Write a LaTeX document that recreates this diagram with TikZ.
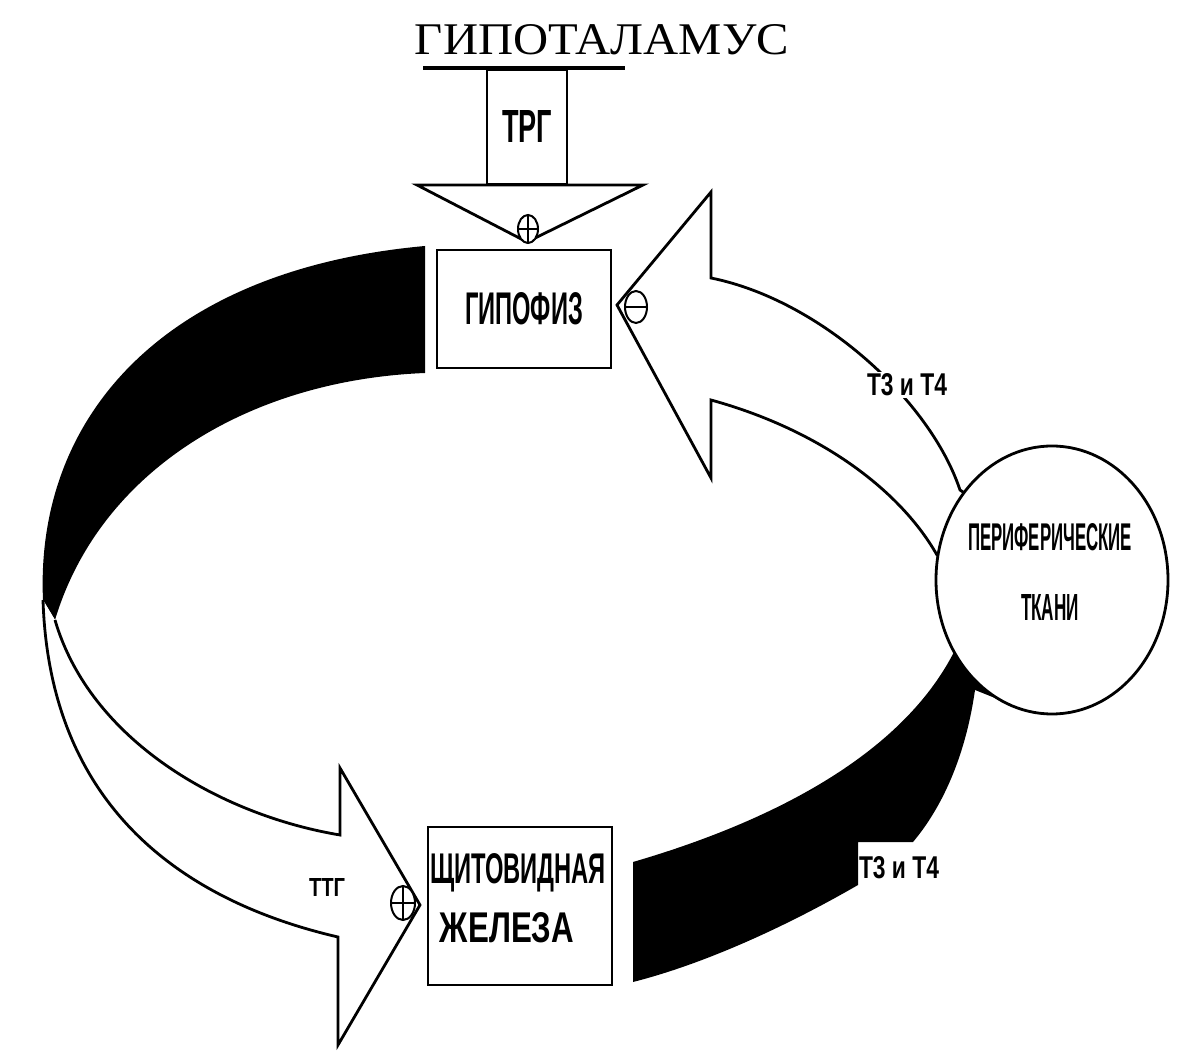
\documentclass[tikz,border=0pt]{standalone}
\usepackage{fontspec}
\usepackage{graphicx}
\usetikzlibrary{shapes.geometric}
\setmainfont{Liberation Serif}
\newfontfamily\lsans{Liberation Sans}
\newcommand\fitt[3]{\resizebox{#1pt}{#2pt}{\lsans\bfseries #3}}
\begin{document}
\begin{tikzpicture}[x=0.5pt,y=-0.5pt,line width=1.4pt,
  boxx/.style={draw,fill=white,inner sep=0},
  sgn/.style={draw,fill=white,ellipse,inner sep=0,line width=1pt},
  lbl/.style={inner sep=1pt}]
\useasboundingbox (0,0) rectangle (1200,1058);
% left black band
\fill (425,246) .. controls (160,270) and (35,420) .. (43,600)
  -- (55,620) .. controls (100,470) and (250,380) .. (425,373) -- cycle;
% bottom white arrow
\draw[fill=white,line join=miter] (43,600) .. controls (50,820) and (200,905) .. (338,937)
  -- (338,1045) -- (420,905) -- (340,768) -- (340,835)
  .. controls (220,815) and (90,740) .. (55,620);
% right black band
\fill (633,862) .. controls (760,825) and (900,760) .. (955,650) -- (1000,700) -- (975,690)
  .. controls (965,760) and (940,810) .. (913,842) -- (858,842) -- (858,885)
  .. controls (780,930) and (700,965) .. (633,982) -- cycle;
% top white arrow
\draw[fill=white,line join=miter] (975,500) -- (960,490) .. controls (930,400) and (820,300) .. (711,278)
  -- (711,192) -- (617,305) -- (711,478) -- (711,400)
  .. controls (820,430) and (900,490) .. (937,555) -- (975,560);
% circle
\node[draw,fill=white,ellipse,minimum width=116pt,minimum height=134pt,inner sep=0] (per) at (1052,580) {};
\node at (1050,537) {\fitt{82}{13.5}{ПЕРИФЕРИЧЕСКИЕ}};
\node at (1050,608) {\fitt{29}{13}{ТКАНИ}};
% title
\node (hyp) at (602,40) {\resizebox{187pt}{15pt}{ГИПОТАЛАМУС}};
\coordinate (ul) at (423,68); \coordinate (ur) at (625,68);
\draw[line width=2pt] (ul) -- (ur);
% TRG
\node[boxx,minimum width=40pt,minimum height=57.5pt] (trg) at (527,127) {\fitt{25}{16}{ТРГ}};
\draw[fill=white] (417,185) -- (643,185) -- (527,242) -- cycle;
\node[sgn,minimum width=10pt,minimum height=14pt] (p1) at (528,229) {};
\draw[line width=1pt] (p1.north) -- (p1.south) (p1.west) -- (p1.east);
% hypophysis
\node[boxx,minimum width=87pt,minimum height=59pt] (gip) at (524,309) {\fitt{59}{16}{ГИПОФИЗ}};
\node[sgn,minimum width=11pt,minimum height=16pt] (m1) at (636,307) {};
\draw[line width=1.2pt] (m1.west) -- (m1.east);
% thyroid
\node[boxx,minimum width=92pt,minimum height=79pt] (thy) at (520,906) {};
\node at (518,873) {\fitt{88}{15}{ЩИТОВИДНАЯ}};
\node at (507,928) {\fitt{67}{15}{ЖЕЛЕЗА}};
\node[sgn,minimum width=12pt,minimum height=17pt] (p2) at (403,903) {};
\draw[line width=1.2pt] (p2.north) -- (p2.south) (p2.west) -- (p2.east);
% labels
\node[lbl,fill=white] (t1) at (907,385) {\fitt{40}{11}{Т3 и Т4}};
\node[lbl] (t2) at (899,868) {\fitt{40}{11}{Т3 и Т4}};
\node[lbl] (ttg) at (327,887) {\fitt{18}{9}{ТТГ}};
\end{tikzpicture}
\end{document}
